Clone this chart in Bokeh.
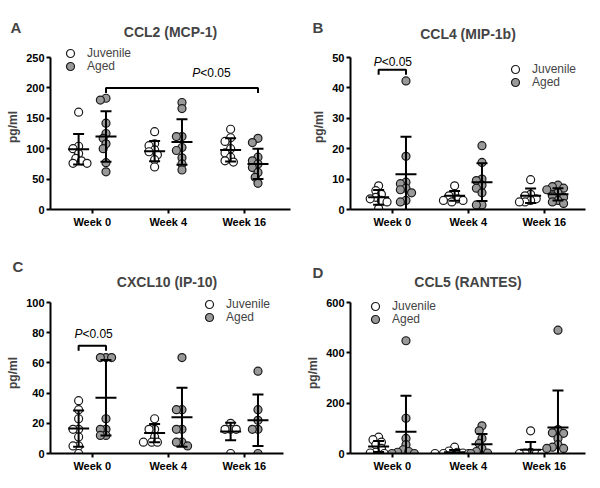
import numpy as np
from bokeh.plotting import figure
from bokeh.models import FixedTicker, Range1d, Legend, LegendItem, Title
from bokeh.layouts import column, row
from bokeh.embed import file_html
from bokeh.resources import INLINE
from bokeh.core.properties import value

FONT = "Liberation Sans"

weeks = ["Week 0", "Week 4", "Week 16"]
series = ["Juvenile", "Aged"]

# ---- Panel A: CCL2 (MCP-1) ----
ccl2_juv = [[160, 104, 100, 92, 84, 80, 76, 76],
            [128, 108, 105, 98, 95, 90, 82, 70],
            [132, 118, 112, 100, 93, 86, 80, 78]]
ccl2_aged = [[183, 180, 142, 125, 117, 108, 100, 77, 62],
             [176, 166, 120, 120, 102, 97, 85, 75, 65],
             [117, 110, 86, 80, 75, 69, 61, 53, 43]]
ccl2_juv_mean = [99, 96, 98]
ccl2_juv_sd = [25, 16.5, 19]
ccl2_aged_mean = [120, 111, 75]
ccl2_aged_sd = [41.5, 37.5, 25]
ccl2_ticks = [0, 50, 100, 150, 200, 250]
ccl2_brackets = [(0, 1, 2, 1, 200.0)]
ccl2_p_pos = [(2.42, 224.0)]

# ---- Panel B: CCL4 (MIP-1b) ----
ccl4_juv = [[7.8, 6.2, 5, 4, 3.5, 3, 2.5, 0.3],
            [7.8, 5.2, 4.5, 3.5, 3, 3, 2.5],
            [9.8, 5, 4.5, 3.5, 3, 2.5, 2.5]]
ccl4_aged = [[42.3, 17.5, 9, 8.5, 7, 6.5, 5.5, 3, 2.5],
             [21, 15.5, 10, 9.5, 8, 7, 5.5, 1.5, 1.5],
             [8, 7.5, 7, 6.5, 5.5, 4.5, 4, 3, 2.5, 2]]
ccl4_juv_mean = [4.0, 4.5, 4.5]
ccl4_juv_sd = [2.4, 1.6, 2.4]
ccl4_aged_mean = [11.6, 9.0, 5.0]
ccl4_aged_sd = [12.3, 6.2, 2.0]
ccl4_ticks = [0, 10, 20, 30, 40, 50]
ccl4_brackets = [(0, 0, 0, 1, 46.0)]
ccl4_p_pos = [(0.86, 48.6)]

# ---- Panel C: CXCL10 (IP-10) ----
cxcl10_juv = [[35, 29, 23, 16, 16, 11, 5, 5, 0],
              [23, 16, 16, 11, 7.5, 7.5, 7.5],
              [20, 16, 16, 16, 0]]
cxcl10_aged = [[63.5, 63.5, 63.5, 23, 16, 16, 12, 12],
               [63.5, 29, 29, 16, 16, 7.5, 7.5, 5],
               [54.5, 29, 22, 16, 16, 0]]
cxcl10_juv_mean = [16.5, 13.5, 14.5]
cxcl10_juv_sd = [12, 6, 5.8]
cxcl10_aged_mean = [37, 24, 22]
cxcl10_aged_sd = [25, 19.5, 17]
cxcl10_ticks = [0, 20, 40, 60, 80, 100]
cxcl10_brackets = [(0, 0, 0, 1, 71.4)]
cxcl10_p_pos = [(0.87, 79.0)]

# ---- Panel D: CCL5 (RANTES) ----
ccl5_juv = [[65, 55, 45, 35, 20, 5, 2, 0],
            [25, 10, 5, 2, 0, 0, 0],
            [90, 5, 2, 0, 0, 0]]
ccl5_aged = [[448, 140, 60, 35, 15, 8, 5, 0, 0],
             [110, 90, 60, 40, 20, 8, 2, 0],
             [490, 95, 82, 80, 60, 35, 25, 20, 20]]
ccl5_juv_mean = [28, 5, 15]
ccl5_juv_sd = [22, 9, 31]
ccl5_aged_mean = [86, 37, 103]
ccl5_aged_sd = [143, 40, 147]
ccl5_ticks = [0, 200, 400, 600]
ccl5_brackets = []
ccl5_p_pos = []

PX_PER_CAT = 76.0
SER_OFF = [-0.18, 0.18]
MARK = 8.0
LEGEND_ROW = 13


def swarm(vals, px_per_unit):
    placed = []
    offs = [0.0] * len(vals)
    order = sorted(range(len(vals)), key=lambda i: -vals[i])
    step = MARK * 0.35
    cands = [0.0]
    for k in range(1, 20):
        cands += [-k * step, k * step]
    for i in order:
        y = vals[i] * px_per_unit
        chosen = cands[-1]
        for c in cands:
            if all((c - px) ** 2 + (y - py) ** 2 >= (MARK * 0.7) ** 2 for px, py in placed):
                chosen = c
                break
        placed.append((chosen, y))
        offs[i] = chosen / PX_PER_CAT
    return offs


def make_panel(letter, title, juv, aged, jm, jsd, am, asd, ticks, brackets, p_pos,
               left, right, frame_top, axis_top, bottom, legend_loc,
               title_standoff, letter_offset, letter_standoff):
    W, H = 300, 244
    fw = W - left - right
    fh = H - frame_top - bottom
    axis_px = H - bottom - axis_top
    y_end = ticks[-1] * fh / axis_px
    x0 = 0.45
    p = figure(width=W, height=H, output_backend="svg", toolbar_location=None,
               x_range=Range1d(x0, x0 + fw / PX_PER_CAT), y_range=Range1d(0, y_end),
               min_border_left=left, min_border_right=right,
               min_border_top=frame_top, min_border_bottom=bottom)
    p.outline_line_color = None
    p.xgrid.visible = False
    p.ygrid.visible = False
    ppu = axis_px / ticks[-1]

    renderers = []
    for s, (data, fill) in enumerate([(juv, "white"), (aged, "#999999")]):
        xs, ys = [], []
        for w, vals in enumerate(data):
            offs = swarm(vals, ppu)
            xs += [w + 1 + SER_OFF[s] + o for o in offs]
            ys += list(vals)
        r = p.scatter(xs, ys, marker="circle", size=MARK, fill_color=fill,
                      line_color="#1a1a1a", line_width=1.2)
        renderers.append(r)

    # error bars (mean +/- SD)
    mw = 10.5 / PX_PER_CAT
    cw = 5.5 / PX_PER_CAT
    for s, (means, sds) in enumerate([(jm, jsd), (am, asd)]):
        cx = [w + 1 + SER_OFF[s] for w in range(3)]
        lo = [m - d for m, d in zip(means, sds)]
        hi = [m + d for m, d in zip(means, sds)]
        p.segment(cx, lo, cx, hi, line_color="black", line_width=2)
        p.segment([c - mw for c in cx], means, [c + mw for c in cx], means,
                  line_color="black", line_width=2)
        p.segment([c - cw for c in cx], hi, [c + cw for c in cx], hi,
                  line_color="black", line_width=2)
        p.segment([c - cw for c in cx], lo, [c + cw for c in cx], lo,
                  line_color="black", line_width=2)

    # significance brackets
    tick_len = 5.0 / ppu
    for (w1, s1, w2, s2, lvl), (tx, ty) in zip(brackets, p_pos):
        xa = w1 + 1 + SER_OFF[s1]
        xb = w2 + 1 + SER_OFF[s2]
        p.multi_line([[xa, xa, xb, xb]], [[lvl - tick_len, lvl, lvl, lvl - tick_len]],
                     line_color="black", line_width=2)
        p.text([tx], [ty], text=["P"], text_align="right", text_baseline="middle",
               text_font=value(FONT), text_font_size="12px", text_font_style="italic",
               text_color="black")
        p.text([tx], [ty], text=["<0.05"], text_align="left", text_baseline="middle",
               text_font=value(FONT), text_font_size="12px", text_color="black")

    # axes
    p.xaxis.ticker = FixedTicker(ticks=[1, 2, 3])
    p.xaxis.major_label_overrides = {1: weeks[0], 2: weeks[1], 3: weeks[2]}
    p.yaxis.ticker = FixedTicker(ticks=ticks)
    p.yaxis.bounds = (0, ticks[-1])
    for ax in (p.xaxis, p.yaxis):
        ax.axis_line_width = 2
        ax.axis_line_color = "black"
        ax.major_tick_line_width = 2
        ax.major_tick_line_color = "black"
        ax.major_tick_out = 4
        ax.major_tick_in = 0
        ax.minor_tick_line_color = None
        ax.major_label_text_font = FONT
        ax.major_label_text_font_style = "bold"
        ax.major_label_text_font_size = "11px"
        ax.major_label_text_color = "black"
        ax.major_label_standoff = 2
    p.yaxis.axis_label = "pg/ml"
    p.yaxis.axis_label_text_font = FONT
    p.yaxis.axis_label_text_font_style = "bold"
    p.yaxis.axis_label_text_font_size = "12px"
    p.yaxis.axis_label_standoff = 3

    # legend: one single-row legend per series so rows can sit close together
    lx, ly = legend_loc
    for k in range(2):
        lg = Legend(items=[LegendItem(label=series[k], renderers=[renderers[k]])],
                    location=(lx, ly + (1 - k) * LEGEND_ROW), orientation="vertical",
                    glyph_width=20, glyph_height=20, label_height=20, spacing=0,
                    padding=0, margin=0, label_standoff=7,
                    background_fill_alpha=0, border_line_alpha=0,
                    label_text_font=FONT, label_text_font_size="12px")
        p.add_layout(lg)

    # panel letter (outer row of the top panel)
    p.title.text = letter
    p.title.align = "left"
    p.title.offset = letter_offset
    p.title.standoff = letter_standoff
    p.title.vertical_align = "bottom"
    p.title.text_font = FONT
    p.title.text_font_style = "bold"
    p.title.text_font_size = "15px"
    # chart title (row next to the frame)
    p.add_layout(Title(text=title, align="center", vertical_align="middle",
                       standoff=title_standoff, text_font=FONT, text_font_style="bold",
                       text_font_size="14px"), "above")
    return p


pA = make_panel("A", "CCL2 (MCP-1)", ccl2_juv, ccl2_aged, ccl2_juv_mean, ccl2_juv_sd,
                ccl2_aged_mean, ccl2_aged_sd, ccl2_ticks, ccl2_brackets, ccl2_p_pos,
                50, 10, 44, 57, 35, (10, 133), 7.5, -40, -34.5)
pB = make_panel("B", "CCL4 (MIP-1b)", ccl4_juv, ccl4_aged, ccl4_juv_mean, ccl4_juv_sd,
                ccl4_aged_mean, ccl4_aged_sd, ccl4_ticks, ccl4_brackets, ccl4_p_pos,
                50, 15, 44, 57, 35, (155, 117), 3.5, -38, -27.7)
pC = make_panel("C", "CXCL10 (IP-10)", cxcl10_juv, cxcl10_aged, cxcl10_juv_mean, cxcl10_juv_sd,
                cxcl10_aged_mean, cxcl10_aged_sd, cxcl10_ticks, cxcl10_brackets, cxcl10_p_pos,
                50, 17, 48, 58, 35, (149, 126), 3.5, -38, -9.3)
pD = make_panel("D", "CCL5 (RANTES)", ccl5_juv, ccl5_aged, ccl5_juv_mean, ccl5_juv_sd,
                ccl5_aged_mean, ccl5_aged_sd, ccl5_ticks, ccl5_brackets, ccl5_p_pos,
                50, 15, 48, 58, 35, (15, 124), 3.5, -38, -21)

layout = column(row(pA, pB), row(pC, pD))
open("out.html", "w").write(file_html(layout, INLINE))
